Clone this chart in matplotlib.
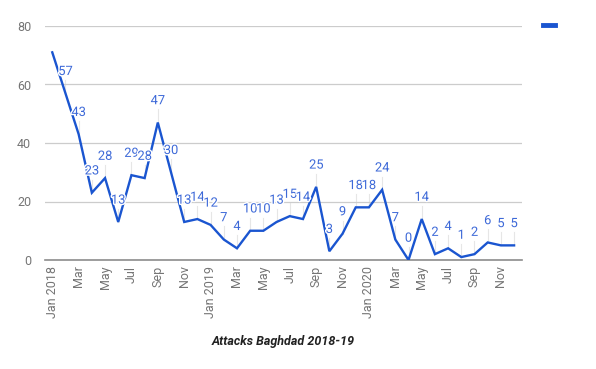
import matplotlib
matplotlib.use("Agg")
import matplotlib.pyplot as plt
import matplotlib.patheffects as pe
from matplotlib.lines import Line2D

plt.rcParams['font.family'] = ['Roboto', 'DejaVu Sans']

months = ["Jan 2018", "Feb", "Mar", "Apr", "May", "Jun", "Jul", "Aug", "Sep", "Oct", "Nov", "Dec",
          "Jan 2019", "Feb", "Mar", "Apr", "May", "Jun", "Jul", "Aug", "Sep", "Oct", "Nov", "Dec",
          "Jan 2020", "Feb", "Mar", "Apr", "May", "Jun", "Jul", "Aug", "Sep", "Oct", "Nov", "Dec"]
attacks = [71, 57, 43, 23, 28, 13, 29, 28, 47, 30, 13, 14,
           12, 7, 4, 10, 10, 13, 15, 14, 25, 3, 9, 18,
           18, 24, 7, 0, 14, 2, 4, 1, 2, 6, 5, 5]
show_label = [False] + [True] * 35
yticks = [0, 20, 40, 60, 80]
title = "Attacks Baghdad 2018-19"

line_color = "#1a55d0"
label_color = "#3d69d8"

fig = plt.figure(figsize=(5.96, 3.69), dpi=100)
ax = fig.add_axes([45/596, (369-260)/369, (522-45)/596, (260-26)/369])

x = list(range(len(attacks)))
ax.plot(x, attacks, color=line_color, lw=1.7, zorder=3, solid_joinstyle='miter')

for xi, v, s in zip(x, attacks, show_label):
    if not s:
        continue
    ax.plot([xi, xi], [v, v + 4.5], color="#e6e6e6", lw=0.8, zorder=1)
    ax.annotate(str(v), (xi, v), xytext=(0, 11), textcoords="offset points",
                ha="center", va="bottom", color=label_color, fontsize=9.3, zorder=4,
                path_effects=[pe.withStroke(linewidth=2, foreground="white")])

ax.set_xlim(-0.55, 35.6)
ax.set_ylim(0, 80)
ax.set_yticks(yticks)
ax.set_yticklabels([str(t) for t in yticks])
ax.set_xticks(x[::2])
ax.set_xticklabels(months[::2], rotation=90)
ax.tick_params(axis='both', length=0, colors="#757575", labelsize=9)
ax.tick_params(axis='y', pad=10)
ax.tick_params(axis='x', pad=4)
ax.grid(axis='y', color="#cccccc", lw=0.9, zorder=0)
for s in ["top", "right", "left"]:
    ax.spines[s].set_visible(False)
ax.spines["bottom"].set_color("#8c8c8c")
ax.spines["bottom"].set_linewidth(1.2)

fig.add_artist(Line2D([543/596, 555/596], [1 - 25/369, 1 - 25/369], color=line_color, lw=3.5))

fig.text(283/596, 1 - 342/369, title, ha="center", va="center", fontsize=9,
         fontweight="bold", fontstyle="italic", color="#222222")

fig.savefig("out.png", dpi=100)
